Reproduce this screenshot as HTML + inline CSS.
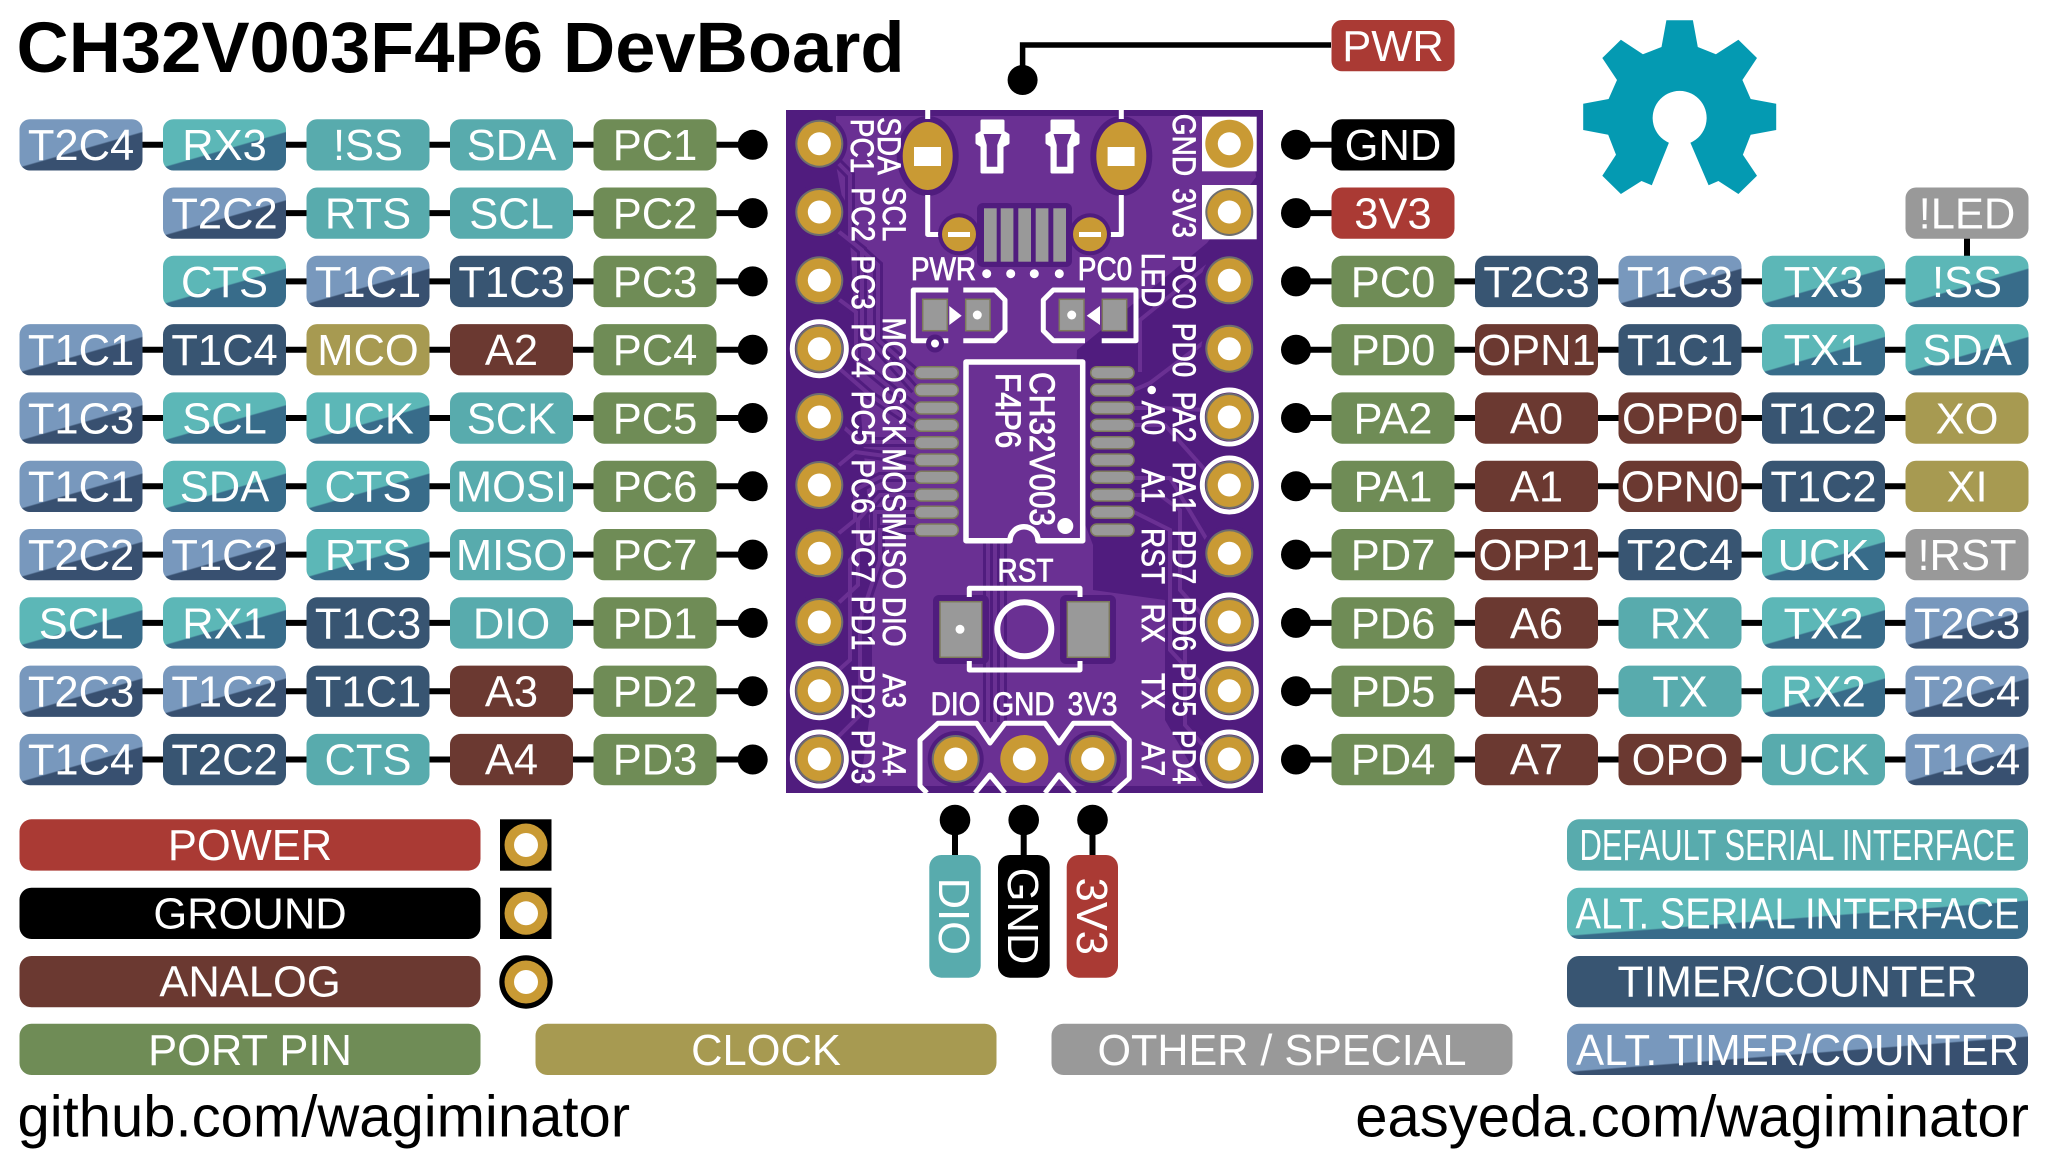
<!DOCTYPE html>
<html><head><meta charset="utf-8"><title>CH32V003F4P6 DevBoard</title>
<style>
html,body{margin:0;padding:0;background:#fff}
svg{display:block;font-family:"Liberation Sans",sans-serif}
.p{width:123px;height:51.3px;rx:10.5px;ry:10.5px}
.l{width:461px;height:51.3px;rx:12px;ry:12px}
.pl text,.lg text,.bt text{font-size:43.5px;fill:#fff;text-anchor:middle}
.s{fill:#58abad}.as{fill:url(#as)}.t{fill:#385572}.at{fill:url(#at)}.g{fill:#6f8c56}.a{fill:#6b3931}.r{fill:#aa3a34}.k{fill:#000}.c{fill:#a79a51}.o{fill:#999}
.sk text{font-size:32px;fill:#fff;stroke:#fff;stroke-width:.8px;text-anchor:middle}
.w{fill:none;stroke:#fff;stroke-width:5px;stroke-linejoin:round}
.gp{fill:#999;stroke:#7d7a5c;stroke-width:1.5px}
</style></head><body>
<svg xmlns="http://www.w3.org/2000/svg" width="2048" height="1169" viewBox="0 0 2048 1169">
<defs>
<linearGradient id="as" x1=".155" y1=".095" x2=".845" y2="1.095"><stop offset=".49" stop-color="#5cb7b7"/><stop offset=".51" stop-color="#386c8a"/></linearGradient>
<linearGradient id="at" x1=".155" y1=".095" x2=".845" y2="1.095"><stop offset=".49" stop-color="#7898bd"/><stop offset=".51" stop-color="#385070"/></linearGradient>
<g id="pad"><circle r="28" fill="#501c7e"/><circle r="24" fill="#6e6e6e"/><circle r="22" fill="#c99a34"/><circle r="11.5" fill="#fff"/></g>
<g id="apad"><circle r="27" fill="#501c7e" stroke="#fff" stroke-width="5"/><circle r="24" fill="#6e6e6e"/><circle r="22" fill="#c99a34"/><circle r="11.5" fill="#fff"/></g>
<path id="tr" d="M833,158L850,175V240L878,265V340L915,372M833,227L862,250V330L915,390M833,295L856,312V360L915,408M833,363L870,395L915,425M836,420L860,442H915M833,470L855,452L915,460M833,538L855,520V490L880,477H915M833,608L858,585V520L880,495H915M833,675L850,660V560L875,530V512H915M830,745L860,715V620L880,560V530H915M988,540V722M1002,540V722M1207,266L1140,320V372M1207,340L1150,383L1134,390M1207,410L1160,408H1134M1205,470L1165,425H1134M1207,540L1170,478H1134M1207,620L1180,590V510L1160,495H1134M1207,690L1170,650V530L1134,512M1203,745L1185,725V600"/>
</defs>

<text x="16.5" y="72" font-size="71" font-weight="700" textLength="888" lengthAdjust="spacingAndGlyphs">CH32V003F4P6 DevBoard</text>

<path d="M1331,45H1022.6V80" fill="none" stroke="#000" stroke-width="5.5"/>
<circle cx="1022.6" cy="80" r="15"/>
<rect class="p r" x="1331.5" y="20"/>
<text x="1393" y="61" font-size="43.5" fill="#fff" text-anchor="middle">PWR</text>

<path fill="#049ab2" fill-rule="evenodd" d="M1666.4,20.3H1692.9L1697.8,47L1715.9,54.3L1738.4,39.7L1757,58L1742.4,80L1750.7,99L1776.2,103.7V130L1750.7,134.7L1742.9,154.7L1757,175.7L1738.4,194L1718.4,181L1708.6,185.3L1690.4,142.7A27,27 0 1 0 1668.9,142.7L1651.8,185.3L1641.5,181L1620.9,194L1602.3,175.7L1616,154.7L1608.2,134.7L1583.2,130V103.7L1608.6,99L1617,80L1602.3,58L1620.9,39.7L1642.9,54.3L1661.5,47Z"/>

<!-- connector lines -->
<g fill="none" stroke="#000" stroke-width="6">
<path d="M81,144.8H752M224,213.1H752M224,281.4H752M81,349.7H752M81,418H752M81,486.3H752M81,554.6H752M81,622.9H752M81,691.2H752M81,759.5H752"/>
<path d="M1296,144.8H1393M1296,213.1H1393M1296,281.4H1967M1296,349.7H1967M1296,418H1967M1296,486.3H1967M1296,554.6H1967M1296,622.9H1967M1296,691.2H1967M1296,759.5H1967"/>
<path d="M1967,235V260M955,820V860M1023.7,820V860M1092.5,820V860"/>
</g>
<g>
<circle cx="752.7" cy="144.8" r="15"/><circle cx="752.7" cy="213.1" r="15"/><circle cx="752.7" cy="281.4" r="15"/><circle cx="752.7" cy="349.7" r="15"/><circle cx="752.7" cy="418" r="15"/><circle cx="752.7" cy="486.3" r="15"/><circle cx="752.7" cy="554.6" r="15"/><circle cx="752.7" cy="622.9" r="15"/><circle cx="752.7" cy="691.2" r="15"/><circle cx="752.7" cy="759.5" r="15"/>
<circle cx="1296" cy="144.8" r="15"/><circle cx="1296" cy="213.1" r="15"/><circle cx="1296" cy="281.4" r="15"/><circle cx="1296" cy="349.7" r="15"/><circle cx="1296" cy="418" r="15"/><circle cx="1296" cy="486.3" r="15"/><circle cx="1296" cy="554.6" r="15"/><circle cx="1296" cy="622.9" r="15"/><circle cx="1296" cy="691.2" r="15"/><circle cx="1296" cy="759.5" r="15"/>
<circle cx="955" cy="820" r="15.3"/><circle cx="1023.7" cy="820" r="15.3"/><circle cx="1092.5" cy="820" r="15.3"/>
</g>

<!-- left pills -->
<g class="pl">
<g transform="translate(0,119.2)"><rect class="p at" x="19.5"/><rect class="p as" x="163"/><rect class="p s" x="306.5"/><rect class="p s" x="450"/><rect class="p g" x="593.5"/><text x="81" y="41">T2C4</text><text x="224.5" y="41">RX3</text><text x="368" y="41">!SS</text><text x="511.5" y="41">SDA</text><text x="655" y="41">PC1</text></g>
<g transform="translate(0,187.5)"><rect class="p at" x="163"/><rect class="p s" x="306.5"/><rect class="p s" x="450"/><rect class="p g" x="593.5"/><text x="224.5" y="41">T2C2</text><text x="368" y="41">RTS</text><text x="511.5" y="41">SCL</text><text x="655" y="41">PC2</text></g>
<g transform="translate(0,255.8)"><rect class="p as" x="163"/><rect class="p at" x="306.5"/><rect class="p t" x="450"/><rect class="p g" x="593.5"/><text x="224.5" y="41">CTS</text><text x="368" y="41">T1C1</text><text x="511.5" y="41">T1C3</text><text x="655" y="41">PC3</text></g>
<g transform="translate(0,324.1)"><rect class="p at" x="19.5"/><rect class="p t" x="163"/><rect class="p c" x="306.5"/><rect class="p a" x="450"/><rect class="p g" x="593.5"/><text x="81" y="41">T1C1</text><text x="224.5" y="41">T1C4</text><text x="368" y="41">MCO</text><text x="511.5" y="41">A2</text><text x="655" y="41">PC4</text></g>
<g transform="translate(0,392.4)"><rect class="p at" x="19.5"/><rect class="p as" x="163"/><rect class="p as" x="306.5"/><rect class="p s" x="450"/><rect class="p g" x="593.5"/><text x="81" y="41">T1C3</text><text x="224.5" y="41">SCL</text><text x="368" y="41">UCK</text><text x="511.5" y="41">SCK</text><text x="655" y="41">PC5</text></g>
<g transform="translate(0,460.7)"><rect class="p at" x="19.5"/><rect class="p as" x="163"/><rect class="p as" x="306.5"/><rect class="p s" x="450"/><rect class="p g" x="593.5"/><text x="81" y="41">T1C1</text><text x="224.5" y="41">SDA</text><text x="368" y="41">CTS</text><text x="511.5" y="41">MOSI</text><text x="655" y="41">PC6</text></g>
<g transform="translate(0,529)"><rect class="p at" x="19.5"/><rect class="p at" x="163"/><rect class="p as" x="306.5"/><rect class="p s" x="450"/><rect class="p g" x="593.5"/><text x="81" y="41">T2C2</text><text x="224.5" y="41">T1C2</text><text x="368" y="41">RTS</text><text x="511.5" y="41">MISO</text><text x="655" y="41">PC7</text></g>
<g transform="translate(0,597.3)"><rect class="p as" x="19.5"/><rect class="p as" x="163"/><rect class="p t" x="306.5"/><rect class="p s" x="450"/><rect class="p g" x="593.5"/><text x="81" y="41">SCL</text><text x="224.5" y="41">RX1</text><text x="368" y="41">T1C3</text><text x="511.5" y="41">DIO</text><text x="655" y="41">PD1</text></g>
<g transform="translate(0,665.6)"><rect class="p at" x="19.5"/><rect class="p at" x="163"/><rect class="p t" x="306.5"/><rect class="p a" x="450"/><rect class="p g" x="593.5"/><text x="81" y="41">T2C3</text><text x="224.5" y="41">T1C2</text><text x="368" y="41">T1C1</text><text x="511.5" y="41">A3</text><text x="655" y="41">PD2</text></g>
<g transform="translate(0,733.9)"><rect class="p at" x="19.5"/><rect class="p t" x="163"/><rect class="p s" x="306.5"/><rect class="p a" x="450"/><rect class="p g" x="593.5"/><text x="81" y="40.6">T1C4</text><text x="224.5" y="40.6">T2C2</text><text x="368" y="40.6">CTS</text><text x="511.5" y="40.6">A4</text><text x="655" y="40.6">PD3</text></g>

<!-- right pills -->
<g transform="translate(0,119.2)"><rect class="p k" x="1331.5"/><text x="1393" y="41">GND</text></g>
<g transform="translate(0,187.5)"><rect class="p r" x="1331.5"/><rect class="p o" x="1905.5"/><text x="1393" y="41">3V3</text><text x="1967" y="41">!LED</text></g>
<g transform="translate(0,255.8)"><rect class="p g" x="1331.5"/><rect class="p t" x="1475"/><rect class="p at" x="1618.5"/><rect class="p as" x="1762"/><rect class="p as" x="1905.5"/><text x="1393" y="41">PC0</text><text x="1536.5" y="41">T2C3</text><text x="1680" y="41">T1C3</text><text x="1823.5" y="41">TX3</text><text x="1967" y="41">!SS</text></g>
<g transform="translate(0,324.1)"><rect class="p g" x="1331.5"/><rect class="p a" x="1475"/><rect class="p t" x="1618.5"/><rect class="p as" x="1762"/><rect class="p as" x="1905.5"/><text x="1393" y="41">PD0</text><text x="1536.5" y="41">OPN1</text><text x="1680" y="41">T1C1</text><text x="1823.5" y="41">TX1</text><text x="1967" y="41">SDA</text></g>
<g transform="translate(0,392.4)"><rect class="p g" x="1331.5"/><rect class="p a" x="1475"/><rect class="p a" x="1618.5"/><rect class="p t" x="1762"/><rect class="p c" x="1905.5"/><text x="1393" y="41">PA2</text><text x="1536.5" y="41">A0</text><text x="1680" y="41">OPP0</text><text x="1823.5" y="41">T1C2</text><text x="1967" y="41">XO</text></g>
<g transform="translate(0,460.7)"><rect class="p g" x="1331.5"/><rect class="p a" x="1475"/><rect class="p a" x="1618.5"/><rect class="p t" x="1762"/><rect class="p c" x="1905.5"/><text x="1393" y="41">PA1</text><text x="1536.5" y="41">A1</text><text x="1680" y="41">OPN0</text><text x="1823.5" y="41">T1C2</text><text x="1967" y="41">XI</text></g>
<g transform="translate(0,529)"><rect class="p g" x="1331.5"/><rect class="p a" x="1475"/><rect class="p t" x="1618.5"/><rect class="p as" x="1762"/><rect class="p o" x="1905.5"/><text x="1393" y="41">PD7</text><text x="1536.5" y="41">OPP1</text><text x="1680" y="41">T2C4</text><text x="1823.5" y="41">UCK</text><text x="1967" y="41">!RST</text></g>
<g transform="translate(0,597.3)"><rect class="p g" x="1331.5"/><rect class="p a" x="1475"/><rect class="p s" x="1618.5"/><rect class="p as" x="1762"/><rect class="p at" x="1905.5"/><text x="1393" y="41">PD6</text><text x="1536.5" y="41">A6</text><text x="1680" y="41">RX</text><text x="1823.5" y="41">TX2</text><text x="1967" y="41">T2C3</text></g>
<g transform="translate(0,665.6)"><rect class="p g" x="1331.5"/><rect class="p a" x="1475"/><rect class="p s" x="1618.5"/><rect class="p as" x="1762"/><rect class="p at" x="1905.5"/><text x="1393" y="41">PD5</text><text x="1536.5" y="41">A5</text><text x="1680" y="41">TX</text><text x="1823.5" y="41">RX2</text><text x="1967" y="41">T2C4</text></g>
<g transform="translate(0,733.9)"><rect class="p g" x="1331.5"/><rect class="p a" x="1475"/><rect class="p a" x="1618.5"/><rect class="p s" x="1762"/><rect class="p at" x="1905.5"/><text x="1393" y="40.6">PD4</text><text x="1536.5" y="40.6">A7</text><text x="1680" y="40.6">OPO</text><text x="1823.5" y="40.6">UCK</text><text x="1967" y="40.6">T1C4</text></g>
</g>

<!-- board -->
<rect x="786" y="110" width="477" height="683" fill="#501c7e"/>
<path d="M836,116H1250L1256,177L1207,243L1077,350L1072,490L1093,545V590L1165,600V720L1203,786H860L872,700V560L860,400L850,240L836,165Z" fill="#6a3093"/>
<use href="#tr" fill="none" stroke="#501c7e" stroke-width="10"/>
<use href="#tr" fill="none" stroke="#6a3093" stroke-width="4"/>

<!-- pads -->
<rect x="1202" y="116.7" width="54.7" height="54.6" fill="#fff"/>
<rect x="1202" y="185" width="54.7" height="54.3" fill="#fff"/>
<use href="#pad" x="819.3" y="143.7"/><use href="#pad" x="819.3" y="212"/><use href="#pad" x="819.3" y="280.3"/><use href="#apad" x="819.3" y="348.7"/><use href="#pad" x="819.3" y="417"/><use href="#pad" x="819.3" y="485"/><use href="#pad" x="819.3" y="553.3"/><use href="#pad" x="819.3" y="622"/><use href="#apad" x="819.3" y="690.7"/><use href="#apad" x="819.3" y="759"/>
<circle cx="1229.3" cy="143.7" r="24" fill="#c99a34"/><circle cx="1229.3" cy="143.7" r="11.5" fill="#fff"/>
<circle cx="1229.3" cy="212" r="24" fill="#6e6e6e"/><circle cx="1229.3" cy="212" r="22" fill="#c99a34"/><circle cx="1229.3" cy="212" r="11.5" fill="#fff"/>
<use href="#pad" x="1229.3" y="280.3"/><use href="#pad" x="1229.3" y="348.7"/><use href="#apad" x="1229.3" y="417"/><use href="#apad" x="1229.3" y="485"/><use href="#pad" x="1229.3" y="553.3"/><use href="#apad" x="1229.3" y="622"/><use href="#apad" x="1229.3" y="690.7"/><use href="#apad" x="1229.3" y="759"/>

<!-- top parts -->
<ellipse cx="927.7" cy="156" rx="31" ry="40" fill="#501c7e"/><ellipse cx="1121.3" cy="156" rx="31" ry="40" fill="#501c7e"/>
<ellipse cx="927.7" cy="156" rx="25" ry="34" fill="#c99a34"/><ellipse cx="1121.3" cy="156" rx="25" ry="34" fill="#c99a34"/>
<rect x="914" y="147" width="27" height="19" fill="#fff"/><rect x="1107.6" y="147" width="27" height="19" fill="#fff"/>
<path class="w" d="M927.7,110V119M1121.3,110V119M927.7,195V234.5H940M1121.3,195V234.5H1108"/>
<g id="usb"><path fill="#fff" stroke="#fff" stroke-width="3" stroke-linejoin="round" d="M982,121H1003V132L1008,135V143L1002,146V172H982V146L977,143V135L982,132Z"/><path fill="#6a3093" d="M983.5,134H1001.5L997.3,145V166.7H986.7V145Z"/></g>
<use href="#usb" x="70"/>
<rect x="977" y="203" width="95" height="64" rx="6" fill="#501c7e"/>
<circle cx="959" cy="234.3" r="21" fill="#501c7e"/><circle cx="1090" cy="234.3" r="21" fill="#501c7e"/>
<circle cx="959" cy="234.3" r="17" fill="#c99a34"/><circle cx="1090" cy="234.3" r="17" fill="#c99a34"/>
<rect x="948" y="232" width="22" height="5" fill="#fff"/><rect x="1079" y="232" width="22" height="5" fill="#fff"/>
<g fill="#999"><rect x="984" y="208.3" width="12.7" height="53.4"/><rect x="1000.7" y="208.3" width="12.7" height="53.4"/><rect x="1018.3" y="208.3" width="12.7" height="53.4"/><rect x="1035.7" y="208.3" width="12.7" height="53.4"/><rect x="1053.3" y="208.3" width="12.7" height="53.4"/></g>
<g fill="#fff"><circle cx="986.7" cy="273.7" r="4.5"/><circle cx="1010.7" cy="273.7" r="4.5"/><circle cx="1034.3" cy="273.7" r="4.5"/><circle cx="1059.3" cy="273.7" r="4.5"/></g>

<!-- LEDs -->
<path class="w" d="M948.3,290H913.3V340.7H948.3M963.3,290H995L1005,300V330.7L995,340.7H963.3M1085,290H1053.3L1043.3,300V330.7L1053.3,340.7H1085M1101.7,290H1136V340.7H1101.7"/>
<rect class="gp" x="922.7" y="299.3" width="24.6" height="31.4"/><rect class="gp" x="965.7" y="299.3" width="24.3" height="31.4"/><rect class="gp" x="1059.3" y="299.3" width="24.7" height="31.4"/><rect class="gp" x="1102.3" y="299.3" width="24.4" height="31.4"/>
<path fill="#fff" d="M949.3,306L961.7,315.7L949.3,325ZM1100,306L1086.7,315.7L1100,325Z"/>
<g fill="#fff"><circle cx="977.3" cy="315" r="4.5"/><circle cx="1071.7" cy="315" r="4.5"/></g>
<circle cx="935" cy="343.5" r="9" fill="#501c7e"/><circle cx="935" cy="343.5" r="4" fill="#fff"/>

<!-- IC -->
<g fill="#999" stroke="#7d7a5c" stroke-width="1.5">
<rect x="915" y="366.7" width="43.3" height="12" rx="6"/><rect x="915" y="384" width="43.3" height="12" rx="6"/><rect x="915" y="402" width="43.3" height="12" rx="6"/><rect x="915" y="419.3" width="43.3" height="12" rx="6"/><rect x="915" y="436.7" width="43.3" height="12" rx="6"/><rect x="915" y="454" width="43.3" height="12" rx="6"/><rect x="915" y="471.3" width="43.3" height="12" rx="6"/><rect x="915" y="489" width="43.3" height="12" rx="6"/><rect x="915" y="506.3" width="43.3" height="12" rx="6"/><rect x="915" y="524" width="43.3" height="12" rx="6"/>
<rect x="1090.7" y="366.7" width="43.3" height="12" rx="6"/><rect x="1090.7" y="384" width="43.3" height="12" rx="6"/><rect x="1090.7" y="402" width="43.3" height="12" rx="6"/><rect x="1090.7" y="419.3" width="43.3" height="12" rx="6"/><rect x="1090.7" y="436.7" width="43.3" height="12" rx="6"/><rect x="1090.7" y="454" width="43.3" height="12" rx="6"/><rect x="1090.7" y="471.3" width="43.3" height="12" rx="6"/><rect x="1090.7" y="489" width="43.3" height="12" rx="6"/><rect x="1090.7" y="506.3" width="43.3" height="12" rx="6"/><rect x="1090.7" y="524" width="43.3" height="12" rx="6"/>
</g>
<rect x="966" y="362" width="116.7" height="178.7" fill="#6a3093"/>
<path d="M966,362H1082.7V540.7H1038A14,14 0 0 0 1010,540.7H966Z" fill="#6a3093" stroke="#fff" stroke-width="5.5" stroke-linejoin="round"/>
<circle cx="1065.3" cy="526" r="8" fill="#fff"/>
<g fill="#fff" stroke="#fff" stroke-width=".9" font-size="35">
<text transform="translate(1030,372) rotate(90) scale(.9,1)">CH32V003</text>
<text transform="translate(996,373) rotate(90) scale(.9,1)">F4P6</text>
</g>

<!-- RST button -->
<rect x="933" y="595" width="56" height="69" rx="6" fill="#501c7e"/><rect x="1060" y="595" width="56" height="69" rx="6" fill="#501c7e"/>
<rect class="gp" x="940" y="601.7" width="41.7" height="55.6"/><rect class="gp" x="1067.3" y="601.7" width="42" height="55.6"/>
<circle cx="960" cy="629.3" r="4.5" fill="#fff"/>
<circle cx="1024.3" cy="629.3" r="27" fill="none" stroke="#fff" stroke-width="6"/>
<path class="w" d="M969.3,597V588.3H1080V597M969.3,661V670H1080V661"/>

<!-- header -->
<path class="w" d="M927,793L920,786V740L938,723.3H976.7L990,743L1005,723.3H1045L1059,743L1073.3,723.3H1111.7L1129.3,740V778.3L1113,793M975,793L990,775L1005,793M1045,793L1059,775L1075,793"/>
<use href="#pad" x="955.7" y="759"/><use href="#pad" x="1092.7" y="759"/>
<circle cx="1024.3" cy="759" r="24" fill="#c99a34"/><circle cx="1024.3" cy="759" r="11.5" fill="#fff"/>

<!-- silk labels -->
<g class="sk">
<text transform="translate(851,146) rotate(90) scale(.875,1)">PC1</text>
<text transform="translate(852,214.5) rotate(90) scale(.875,1)">PC2</text>
<text transform="translate(852,282.5) rotate(90) scale(.875,1)">PC3</text>
<text transform="translate(852,350.5) rotate(90) scale(.875,1)">PC4</text>
<text transform="translate(852,418) rotate(90) scale(.875,1)">PC5</text>
<text transform="translate(852,486.5) rotate(90) scale(.875,1)">PC6</text>
<text transform="translate(852,555.5) rotate(90) scale(.875,1)">PC7</text>
<text transform="translate(852,623) rotate(90) scale(.875,1)">PD1</text>
<text transform="translate(852,692) rotate(90) scale(.875,1)">PD2</text>
<text transform="translate(852,757) rotate(90) scale(.875,1)">PD3</text>
<text transform="translate(878,146) rotate(90) scale(.875,1)">SDA</text>
<text transform="translate(883,214) rotate(90) scale(.875,1)">SCL</text>
<text transform="translate(883,350) rotate(90) scale(.875,1)">MCO</text>
<text transform="translate(883,415) rotate(90) scale(.875,1)">SCK</text>
<text transform="translate(883,484) rotate(90) scale(.875,1)">MOSI</text>
<text transform="translate(883,553.5) rotate(90) scale(.875,1)">MISO</text>
<text transform="translate(883,621.7) rotate(90) scale(.875,1)">DIO</text>
<text transform="translate(883,691) rotate(90) scale(.875,1)">A3</text>
<text transform="translate(883,759) rotate(90) scale(.875,1)">A4</text>
<text transform="translate(1173,145) rotate(90) scale(.875,1)">GND</text>
<text transform="translate(1173,213) rotate(90) scale(.875,1)">3V3</text>
<text transform="translate(1173,282) rotate(90) scale(.875,1)">PC0</text>
<text transform="translate(1173,350) rotate(90) scale(.875,1)">PD0</text>
<text transform="translate(1173,417) rotate(90) scale(.875,1)">PA2</text>
<text transform="translate(1173,487) rotate(90) scale(.875,1)">PA1</text>
<text transform="translate(1173,557) rotate(90) scale(.875,1)">PD7</text>
<text transform="translate(1173,624) rotate(90) scale(.875,1)">PD6</text>
<text transform="translate(1173,689.5) rotate(90) scale(.875,1)">PD5</text>
<text transform="translate(1173,757) rotate(90) scale(.875,1)">PD4</text>
<text transform="translate(1142,280) rotate(90) scale(.875,1)">LED</text>
<text transform="translate(1142,418) rotate(90) scale(.875,1)">A0</text>
<text transform="translate(1142,486) rotate(90) scale(.875,1)">A1</text>
<text transform="translate(1142,556) rotate(90) scale(.875,1)">RST</text>
<text transform="translate(1142,623) rotate(90) scale(.875,1)">RX</text>
<text transform="translate(1142,691) rotate(90) scale(.875,1)">TX</text>
<text transform="translate(1142,759) rotate(90) scale(.875,1)">A7</text>
<text transform="translate(943.5,280) scale(.875,1)">PWR</text>
<text transform="translate(1105,280) scale(.875,1)">PC0</text>
<text transform="translate(1025.5,581.7) scale(.875,1)">RST</text>
<text transform="translate(955.5,715) scale(.875,1)">DIO</text>
<text transform="translate(1023.5,715) scale(.875,1)">GND</text>
<text transform="translate(1092.5,715) scale(.875,1)">3V3</text>
</g>
<circle cx="1151.7" cy="390" r="4.3" fill="#fff"/>

<!-- bottom pills -->
<g class="bt">
<rect x="929.3" y="855" width="51.4" height="122.7" rx="12" class="s"/>
<rect x="998" y="855" width="51.7" height="122.7" rx="12" class="k"/>
<rect x="1066.7" y="855" width="51.3" height="122.7" rx="12" class="r"/>
<text transform="translate(939,916.3) rotate(90)">DIO</text>
<text transform="translate(1008,916) rotate(90)">GND</text>
<text transform="translate(1077,916.3) rotate(90)">3V3</text>
</g>

<!-- legend -->
<g class="lg">
<rect class="l r" x="19.5" y="819.3"/><text x="250" y="860">POWER</text>
<rect class="l k" x="19.5" y="887.7"/><text x="250" y="928.3">GROUND</text>
<rect class="l a" x="19.5" y="956"/><text x="250" y="996.7">ANALOG</text>
<rect class="l g" x="19.5" y="1023.7"/><text x="250" y="1065">PORT PIN</text>
<rect class="l c" x="535.5" y="1023.7"/><text x="766" y="1065">CLOCK</text>
<rect class="l o" x="1051.5" y="1023.7"/><text x="1282" y="1065" textLength="369" lengthAdjust="spacingAndGlyphs">OTHER / SPECIAL</text>
<rect class="l s" x="1567" y="819.3"/><text x="1797.5" y="860" textLength="436" lengthAdjust="spacingAndGlyphs">DEFAULT SERIAL INTERFACE</text>
<rect class="l as" x="1567" y="887.7"/><text x="1797.5" y="928.3" textLength="444" lengthAdjust="spacingAndGlyphs">ALT. SERIAL INTERFACE</text>
<rect class="l t" x="1567" y="956"/><text x="1797.5" y="996.7" textLength="360" lengthAdjust="spacingAndGlyphs">TIMER/COUNTER</text>
<rect class="l at" x="1567" y="1023.7"/><text x="1797.5" y="1065" textLength="443" lengthAdjust="spacingAndGlyphs">ALT. TIMER/COUNTER</text>
</g>
<rect x="500" y="819.3" width="51.5" height="51.4"/><circle cx="526" cy="845" r="21.5" fill="#c99a34"/><circle cx="526" cy="845" r="12" fill="#fff"/>
<rect x="500" y="887.7" width="51.5" height="51.3"/><circle cx="526" cy="913.3" r="21.5" fill="#c99a34"/><circle cx="526" cy="913.3" r="12" fill="#fff"/>
<circle cx="526" cy="982" r="26.7"/><circle cx="526" cy="982" r="21.5" fill="#c99a34"/><circle cx="526" cy="982" r="12" fill="#fff"/>

<text x="17.5" y="1136.7" font-size="58">github.com/wagiminator</text>
<text x="2029" y="1136.7" font-size="58" text-anchor="end">easyeda.com/wagiminator</text>
</svg>
</body></html>
